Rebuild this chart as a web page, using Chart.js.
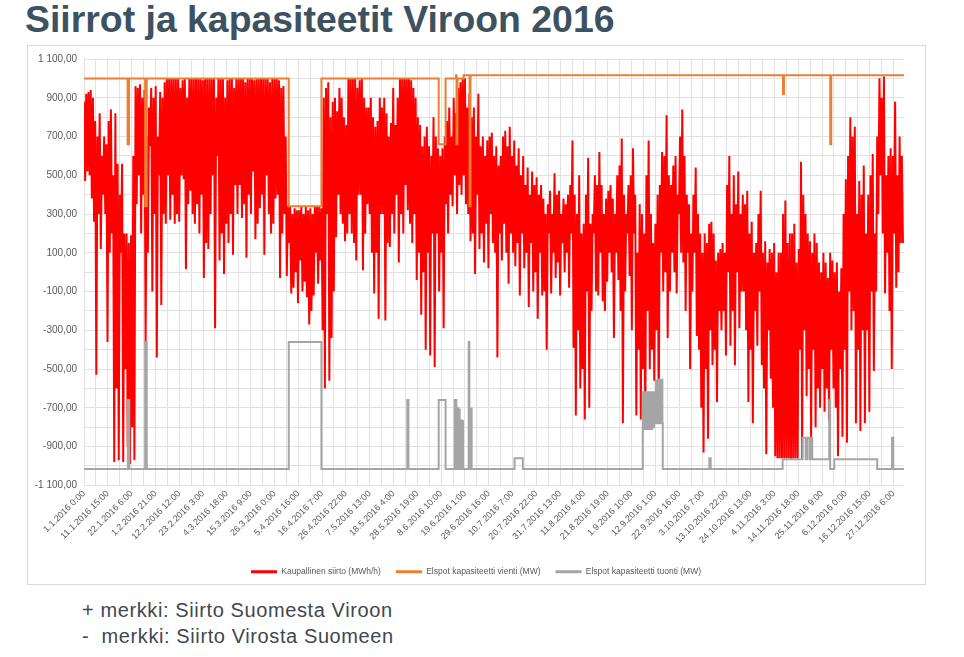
<!DOCTYPE html>
<html>
<head>
<meta charset="utf-8">
<script src="https://cdn.jsdelivr.net/npm/chart.js@4.4.1/dist/chart.umd.min.js"></script>
<style>
  body { margin: 0; width: 964px; height: 657px; background: #fff; position: relative; overflow: hidden;
         font-family: "Liberation Sans", Arial, sans-serif; }
  #title { position: absolute; left: 25px; top: 1px; font-weight: bold; font-size: 37.4px; line-height: 37px;
           color: #3d5260; white-space: nowrap; }
  #box { position: absolute; left: 27px; top: 45px; width: 897px; height: 538px; border: 1px solid #d9d9d9; }
  #chart { position: absolute; left: 0; top: 0; }
  #notes { position: absolute; left: 82px; top: 597px; font-size: 20px; line-height: 26px; color: #3f4750;
           letter-spacing: 0.6px; white-space: pre; }
</style>
</head>
<body>
<div id="title">Siirrot ja kapasiteetit Viroon 2016</div>
<div id="box"><canvas id="chart" width="897" height="540"></canvas></div>
<div id="notes">+ merkki: Siirto Suomesta Viroon
-  merkki: Siirto Virosta Suomeen</div>
<script>
// category labels shown on the x axis (every 255 hours)
const tickLabels = [
  '1.1.2016 0:00', '11.1.2016 15:00', '22.1.2016 6:00', '1.2.2016 21:00', '12.2.2016 12:00',
  '23.2.2016 3:00', '4.3.2016 18:00', '15.3.2016 9:00', '26.3.2016 0:00', '5.4.2016 16:00',
  '16.4.2016 7:00', '26.4.2016 22:00', '7.5.2016 13:00', '18.5.2016 4:00', '28.5.2016 19:00',
  '8.6.2016 10:00', '19.6.2016 1:00', '29.6.2016 16:00', '10.7.2016 7:00', '20.7.2016 22:00',
  '31.7.2016 13:00', '11.8.2016 4:00', '21.8.2016 19:00', '1.9.2016 10:00', '12.9.2016 1:00',
  '22.9.2016 16:00', '3.10.2016 7:00', '13.10.2016 22:00', '24.10.2016 13:00', '4.11.2016 3:00',
  '14.11.2016 18:00', '25.11.2016 9:00', '6.12.2016 0:00', '16.12.2016 15:00', '27.12.2016 6:00'
];
const labelStep = 255;
const hoursInYear = 8784;

// Kaupallinen siirto, one reading every 12 hours (MWh/h), 5 days per row
const transferStep = 12;
const transfer = [
  880, 470, 920, 520, 930, 500, 940, 380, 900, 260,
  780, -530, 700, 300, 820, 120, 600, 400, 700, 300,
  660, -360, 780, 100, 840, 200, 500, -980, 820, -600,
  560, -970, 400, 100, 560, -980, 200, -500, 200, -900,
  150, -990, 190, -800, 600, -970, 960, 350, 950, 500,
  970, 200, 900, 400, 940, -370, 700, 100, 850, 650,
  950, -100, 900, 300, 960, -440, 700, 500, 930, -170,
  900, 300, 980, 250, 1000, 500, 1000, 270, 1000, 400,
  1000, 250, 1000, 300, 1000, 260, 950, 500, 990, 480,
  1000, 15, 900, 350, 1000, 420, 1000, 300, 1000, 250,
  1000, 350, 1000, 200, 1000, 400, 990, -30, 1000, 150,
  1000, 120, 1000, 300, 1000, 500, 1000, -290, 900, 600,
  1000, 60, 1000, 200, 1000, -10, 900, 250, 990, 150,
  1000, 300, 1000, 90, 950, 450, 1000, 300, 1000, 450,
  1000, 280, 1000, 350, 980, 75, 1000, 400, 1000, 300,
  1000, 520, 990, 170, 1000, 250, 1000, 330, 1000, 400,
  1000, 90, 1000, 500, 1000, 300, 980, 200, 1000, 250,
  1000, 380, 1000, 400, 990, -30, 950, 200, 960, 300,
  700, -20, 340, 150, 340, -110, 300, -80, 330, 0,
  320, -160, 320, 60, 340, -100, 300, -50, 340, -130,
  320, -270, 330, -200, 300, -120, 340, 100, 340, -60,
  340, 60, 330, -300, 900, -600, 950, 300, 980, -560,
  800, -340, 880, -100, 900, 180, 830, 400, 950, 300,
  900, 250, 800, 160, 760, 200, 1000, 300, 1000, 200,
  1000, 150, 1000, 60, 950, 400, 990, 400, 1000, 10,
  900, 200, 850, 350, 850, 300, 900, 100, 800, -110,
  750, 100, 780, -240, 900, 300, 850, 300, 900, -250,
  820, 150, 700, 130, 770, 300, 950, 200, 760, 400,
  900, 50, 1000, 300, 1000, 200, 1000, 450, 1000, 320,
  1000, 250, 990, 150, 950, 300, 900, -40, 800, 100,
  760, -220, 650, 0, 700, -400, 750, 100, 650, -430,
  600, 200, 800, -490, 700, 200, 640, -100, 600, 100,
  640, -290, 700, 350, 780, 200, 850, 400, 700, 340,
  900, 500, 820, 300, 950, 450, 980, 400, 1000, 500,
  1000, 350, 850, 300, 920, 160, 800, 200, 850, -10,
  700, 400, 920, 120, 650, 200, 700, 50, 600, 250,
  680, 20, 700, 300, 720, 150, 600, 100, 650, -440,
  550, 200, 600, 60, 700, 250, 730, 100, 650, -60,
  750, 200, 600, 100, 680, 30, 550, 150, 640, -120,
  500, 200, 600, 20, 450, 100, 540, -180, 400, 150,
  520, -100, 450, 0, 490, -240, 400, 100, 450, -120,
  380, -100, 300, -400, 350, 200, 420, -110, 300, 100,
  510, -30, 400, 50, 420, -120, 300, 150, 380, 0,
  350, 100, 400, -80, 450, 200, 680, -390, 400, -740,
  300, -300, 500, -600, 200, -500, 250, -760, 400, -100,
  590, -700, 250, -200, 300, 200, 500, -100, 450, -120,
  620, 100, 450, -150, 300, -200, 380, -50, 420, 100,
  450, 0, 380, -340, 300, 100, 500, -40, 550, -200,
  690, -780, 400, -100, 300, 200, 450, -20, 500, -300,
  640, 200, 400, -740, 100, -400, 350, -760, 300, -500,
  200, -770, 500, -200, 680, -500, 300, -400, 150, -560,
  250, -300, 400, -760, 450, 100, 620, -100, 600, 0,
  810, -340, 500, -100, 450, 100, 550, 0, 600, -110,
  400, 300, 700, 100, 840, 50, 600, -200, 400, 100,
  350, -500, 200, -100, 400, 100, 540, -330, 300, -400,
  200, -700, 100, -930, 200, -500, 150, -860, 250, -300,
  260, -480, 200, -400, 60, -670, 100, -200, 120, -300,
  150, -200, 100, -430, 450, 0, 600, -380, 300, -200,
  500, -480, 350, 0, 520, -290, 300, -100, 400, -100,
  350, -300, 420, -670, 200, -400, 260, -780, 100, -200,
  150, -380, 300, -100, 420, -480, 100, -600, 160, -940,
  50, -300, 120, -550, 100, -700, 150, -950, 0, -960,
  100, -960, 100, -960, 300, -960, 370, -960, 150, -960,
  200, -965, 200, -960, 250, -960, 50, -960, 120, -400,
  570, -960, 400, -300, 300, -640, 200, -500, 160, -860,
  100, -400, 200, -800, 150, -600, 50, -700, 0, -500,
  100, -720, 50, -600, -30, -770, 100, -400, 60, -600,
  0, -700, 50, -950, -100, -500, 20, -850, 300, -400,
  480, -880, 600, -100, 800, -300, 700, -200, 750, -780,
  300, -400, 470, -820, 400, -300, 550, -780, 200, -300,
  400, -720, 500, -100, 610, -510, 200, -100, 700, 300,
  1000, 500, 900, 200, 1010, -110, 500, 100, 600, -200,
  640, -500, 600, 200, 880, -80, 500, 0, 700, 150,
  600, 150
];

// Elspot kapasiteetti vienti: hour where the value changes, new value (MW)
const exportHours = [0, 467, 482, 655, 672, 2193, 2543, 3799, 3873, 3985, 3990, 4000, 4066, 4130, 4140, 7487, 7497, 7993, 8003, 8783];
const exportValues = [1000, 660, 1000, 340, 1000, 340, 1000, 660, 1000, 1016, 660, 1000, 1016, 340, 1016, 920, 1016, 660, 1016, 1016];

// Elspot kapasiteetti tuonti: hour where the value changes, new value (MW)
const importHours = [
  0, 470, 485, 655, 672, 2193, 2543, 3463, 3475, 3799, 3873,
  3970, 3976, 3982, 3988, 3994, 4000, 4006, 4012, 4018, 4024, 4030, 4036, 4042, 4048, 4054, 4060,
  4120, 4128, 4134, 4140, 4146, 4152, 4612, 4700,
  5985, 5995, 6005, 6015, 6025, 6035, 6045, 6055, 6065, 6075, 6085, 6095, 6105, 6115, 6125, 6135,
  6145, 6155, 6165, 6175, 6185, 6195, 6199,
  6698, 6712, 7483, 7697, 7730, 7745, 7770, 7782, 7800, 7982, 7992, 8036, 8496, 8655, 8668, 8783
];
const importValues = [
  -1016, -660, -1016, -360, -1016, -360, -1016, -660, -1016, -660, -1016,
  -660, -1016, -660, -1016, -700, -1016, -705, -1016, -710, -1016, -765, -1016, -765, -1016, -770, -1016,
  -360, -1016, -705, -1016, -705, -1016, -960, -1016,
  -620, -810, -620, -810, -620, -810, -620, -810, -620, -810, -620, -800, -620, -780, -560, -780,
  -555, -780, -555, -780, -555, -780, -1016,
  -960, -1016, -965, -855, -965, -855, -965, -855, -965, -660, -1016, -965, -1016, -855, -1016, -1016
];

const fontFamily = '"Liberation Sans", Arial, sans-serif';
const textColor = '#595959';
const gridColor = '#e2e2e2';

function fiNumber(v) {
  let s = Math.abs(v).toFixed(2).replace('.', ',');
  let parts = s.split(',');
  let i = parts[0];
  if (i.length > 3) i = i.slice(0, -3) + ' ' + i.slice(-3);
  return (v < 0 ? '-' : '') + i + ',' + parts[1];
}

const transferPoints = transfer.map((v, i) => ({ x: i * transferStep, y: v }));
const exportPoints = exportHours.map((h, i) => ({ x: h, y: exportValues[i] }));
const importPoints = importHours.map((h, i) => ({ x: h, y: importValues[i] }));

// the legend sits a little right of the canvas centre
const legendShift = {
  id: 'legendShift',
  afterLayout(chart) {
    chart.legend.left += 10;
    chart.legend.right += 10;
  }
};

new Chart(document.getElementById('chart'), {
  type: 'line',
  plugins: [legendShift],
  data: {
    datasets: [{
      label: 'Kaupallinen siirto (MWh/h)',
      data: transferPoints,
      borderColor: '#ff0000',
      backgroundColor: '#ff0000',
      borderWidth: 2,
      pointRadius: 0,
      order: 3
    }, {
      label: 'Elspot kapasiteetti vienti (MW)',
      data: exportPoints,
      borderColor: '#ed7d31',
      backgroundColor: '#ed7d31',
      borderWidth: 2,
      pointRadius: 0,
      stepped: 'before',
      order: 2
    }, {
      label: 'Elspot kapasiteetti tuonti (MW)',
      data: importPoints,
      borderColor: '#a5a5a5',
      backgroundColor: '#a5a5a5',
      borderWidth: 2,
      pointRadius: 0,
      stepped: 'before',
      order: 1
    }]
  },
  options: {
    responsive: false,
    animation: false,
    devicePixelRatio: 1,
    layout: { padding: { top: 13, right: 21, left: 0, bottom: 0 } },
    plugins: {
      tooltip: { enabled: false },
      legend: {
        position: 'bottom',
        labels: {
          boxWidth: 26,
          boxHeight: 3,
          padding: 15,
          color: textColor,
          font: { size: 8.5, family: fontFamily },
          sort: (a, b) => a.datasetIndex - b.datasetIndex,
          generateLabels: chart => Chart.defaults.plugins.legend.labels.generateLabels(chart)
            .map(item => Object.assign(item, { lineWidth: 0 }))
        }
      }
    },
    scales: {
      x: {
        type: 'linear',
        min: 0,
        max: hoursInYear - 1,
        afterBuildTicks: scale => {
          scale.ticks = [];
          for (let h = 0; h < hoursInYear; h += labelStep / 2) scale.ticks.push({ value: h });
        },
        afterFit: scale => { scale.height += 4; },
        ticks: {
          autoSkip: false,
          maxRotation: 45,
          minRotation: 45,
          padding: 3,
          color: textColor,
          font: { size: 9, family: fontFamily },
          callback: v => (v % labelStep === 0 ? tickLabels[v / labelStep] : '')
        },
        grid: { color: gridColor, drawTicks: false },
        border: { display: false }
      },
      y: {
        min: -1100,
        max: 1100,
        afterBuildTicks: scale => {
          scale.ticks = [];
          for (let v = -1100; v <= 1100; v += 100) scale.ticks.push({ value: v });
        },
        afterFit: scale => { scale.width = 56; },
        ticks: {
          padding: 7,
          color: textColor,
          font: { size: 10, family: fontFamily },
          callback: v => ((v + 1100) % 200 === 0 ? fiNumber(v) : '')
        },
        grid: { color: gridColor, drawTicks: false },
        border: { display: false }
      }
    }
  }
});
</script>
</body>
</html>
